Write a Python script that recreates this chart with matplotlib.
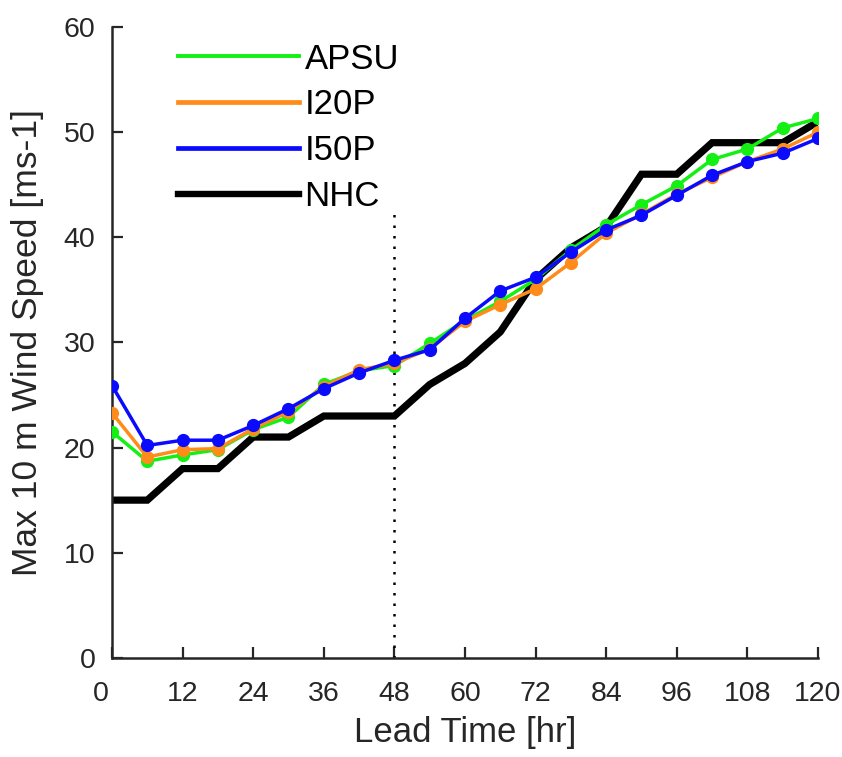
import numpy as np
import matplotlib.pyplot as plt
import matplotlib.transforms as mtransforms
from matplotlib.lines import Line2D

lead_time = [0, 6, 12, 18, 24, 30, 36, 42, 48, 54, 60, 66, 72, 78, 84, 90, 96, 102, 108, 114, 120]

apsu = [21.5, 18.7, 19.3, 19.8, 21.7, 22.9, 26.0, 27.3, 27.8, 29.9, 32.1, 33.9, 36.0, 38.8, 41.2,
        43.1, 44.9, 47.4, 48.4, 50.4, 51.3]
i20p = [23.3, 19.1, 19.8, 19.9, 21.8, 23.4, 25.8, 27.4, 28.0, 29.4, 32.0, 33.6, 35.1, 37.6, 40.4,
        42.2, 44.1, 45.7, 47.2, 48.4, 50.0]
i50p = [25.9, 20.2, 20.7, 20.7, 22.1, 23.7, 25.6, 27.1, 28.3, 29.3, 32.3, 34.9, 36.2, 38.6, 40.7,
        42.1, 44.0, 45.9, 47.2, 48.0, 49.4]
nhc = [15, 15, 18, 18, 21, 21, 23, 23, 23, 26, 28, 31, 36, 39, 41, 46, 46, 49, 49, 49, 51]

xticks = [0, 12, 24, 36, 48, 60, 72, 84, 96, 108, 120]
yticks = [0, 10, 20, 30, 40, 50, 60]

plt.rcParams['font.family'] = ['Liberation Sans', 'DejaVu Sans']

fig = plt.figure(figsize=(8.42, 7.57), dpi=100)
ax = fig.add_axes([0.133, 0.131, 0.8385, 0.8333])

c_green = '#14f014'
c_orange = '#ff8c1a'
c_blue = '#0a0aff'

ax.vlines(48, 0, 42.5, colors='black', linestyles=(0, (1, 3.2)), linewidth=1.8)
ax.plot(lead_time, nhc, color='black', linewidth=5.2, solid_joinstyle='miter', zorder=2)
ax.plot(lead_time, apsu, color=c_green, linewidth=2.5, marker='o', markersize=8.5, zorder=3)
ax.plot(lead_time, i20p, color=c_orange, linewidth=2.5, marker='o', markersize=8.5, zorder=4)
ax.plot(lead_time, i50p, color=c_blue, linewidth=2.5, marker='o', markersize=8.5, zorder=5)

handles = [Line2D([], [], color=c_green, linewidth=2.8),
           Line2D([], [], color=c_orange, linewidth=3.4),
           Line2D([], [], color=c_blue, linewidth=3.4),
           Line2D([], [], color='black', linewidth=4.6)]
ax.legend(handles, ['APSU', 'I20P', 'I50P', 'NHC'], loc='upper left',
          bbox_to_anchor=(0.049, 1.025), frameon=False, fontsize=25,
          handlelength=3.5, handletextpad=0.15, labelspacing=0.37)

ax.set_xlim(0, 120)
ax.set_ylim(0, 60)
ax.set_xticks(xticks)
ax.set_yticks(yticks)
ax.tick_params(direction='in', length=8, width=1.6, labelsize=20.5, colors='#262626')
ax.tick_params(axis='x', pad=17)
ax.tick_params(axis='y', pad=12)
ax.spines['top'].set_visible(False)
ax.spines['right'].set_visible(False)
for s in ['left', 'bottom']:
    ax.spines[s].set_linewidth(1.8)
    ax.spines[s].set_color('#262626')

# the first x label sits a little left of its tick, as in the original
first = ax.get_xticklabels()[0]
first.set_transform(first.get_transform() + mtransforms.ScaledTranslation(-0.11, 0, fig.dpi_scale_trans))

ax.set_xlabel('Lead Time [hr]', fontsize=25, color='#262626', labelpad=6)
ax.set_ylabel('Max 10 m Wind Speed [ms-1]', fontsize=25.5, color='#262626', labelpad=14)

plt.savefig('out.png', dpi=100)
